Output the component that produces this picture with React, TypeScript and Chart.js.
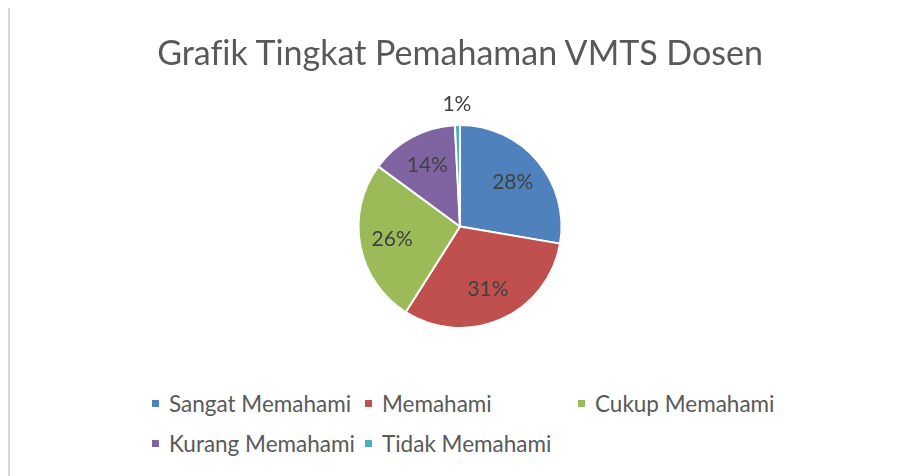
import React, { useEffect, useRef } from "react";
import { Chart, registerables } from "chart.js";

Chart.register(...registerables);

const TITLE = "Grafik Tingkat Pemahaman VMTS Dosen";
const CATEGORIES = ["Sangat Memahami", "Memahami", "Cukup Memahami", "Kurang Memahami", "Tidak Memahami"];
const VALUES = [27.7, 31.3, 26.1, 14.1, 0.8];
const COLORS = ["#4F81BD", "#C0504D", "#9BBB59", "#8064A2", "#4BACC6"];
const FONT = "Lato, 'Open Sans', sans-serif";

const labelPlugin = {
  id: "pctLabels",
  afterDatasetsDraw(chart: any) {
    const ctx = chart.ctx;
    const meta = chart.getDatasetMeta(0);
    const data = chart.data.datasets[0].data as number[];
    const total = data.reduce((a, b) => a + b, 0);
    ctx.save();
    ctx.font = `21px ${FONT}`;
    ctx.fillStyle = "#404040";
    ctx.textAlign = "center";
    ctx.textBaseline = "middle";
    meta.data.forEach((arc: any, i: number) => {
      const { x, y, startAngle, endAngle, outerRadius } = arc.getProps(["x", "y", "startAngle", "endAngle", "outerRadius"], true);
      const mid = (startAngle + endAngle) / 2;
      const pct = Math.round((data[i] / total) * 100);
      const r = pct < 5 ? outerRadius + 21 : outerRadius * 0.68;
      ctx.fillText(pct + "%", x + Math.cos(mid) * r, y + Math.sin(mid) * r);
    });
    ctx.restore();
  },
};

export default function App() {
  const ref = useRef<HTMLCanvasElement>(null);
  useEffect(() => {
    if (!ref.current) return;
    const chart = new Chart(ref.current, {
      type: "pie",
      data: {
        labels: CATEGORIES,
        datasets: [
          {
            data: VALUES,
            backgroundColor: COLORS,
            borderColor: "#ffffff",
            borderWidth: 2,
          },
        ],
      },
      options: {
        responsive: false,
        animation: false,
        layout: { padding: { top: 116, bottom: 19, left: 0, right: 0 } },
        plugins: {
          legend: { display: false },
          tooltip: { enabled: false },
          title: { display: false },
        },
      },
      plugins: [labelPlugin],
    });
    return () => chart.destroy();
  }, []);

  return (
    <div
      style={{
        position: "relative",
        marginTop: -2,
        width: 892,
        height: 480,
        borderTop: "2px solid #d9d9d9",
        borderLeft: "2px solid #d9d9d9",
        overflow: "hidden",
        background: "#fff",
        fontFamily: FONT,
      }}
    >
      <canvas ref={ref} width={900} height={340} style={{ position: "absolute", left: 0, top: 0 }} />
      <div
        style={{
          position: "absolute",
          left: 0,
          top: 24,
          width: 900,
          lineHeight: "40px",
          textAlign: "center",
          fontSize: 34,
          color: "#595959",
          fontVariantLigatures: "none",
          whiteSpace: "nowrap",
        }}
      >
        {TITLE}
      </div>
      <div style={{ position: "absolute", left: 142, top: 375, width: 660, display: "flex", flexWrap: "wrap" }}>
        {CATEGORIES.map((c, i) => (
          <div key={c} style={{ width: 213, height: 40, display: "flex", alignItems: "center", color: "#595959", fontSize: 22.5, whiteSpace: "nowrap" }}>
            <span style={{ display: "inline-block", width: 7, height: 7, background: COLORS[i], marginRight: 10, flex: "none" }} />
            {c}
          </div>
        ))}
      </div>
    </div>
  );
}
